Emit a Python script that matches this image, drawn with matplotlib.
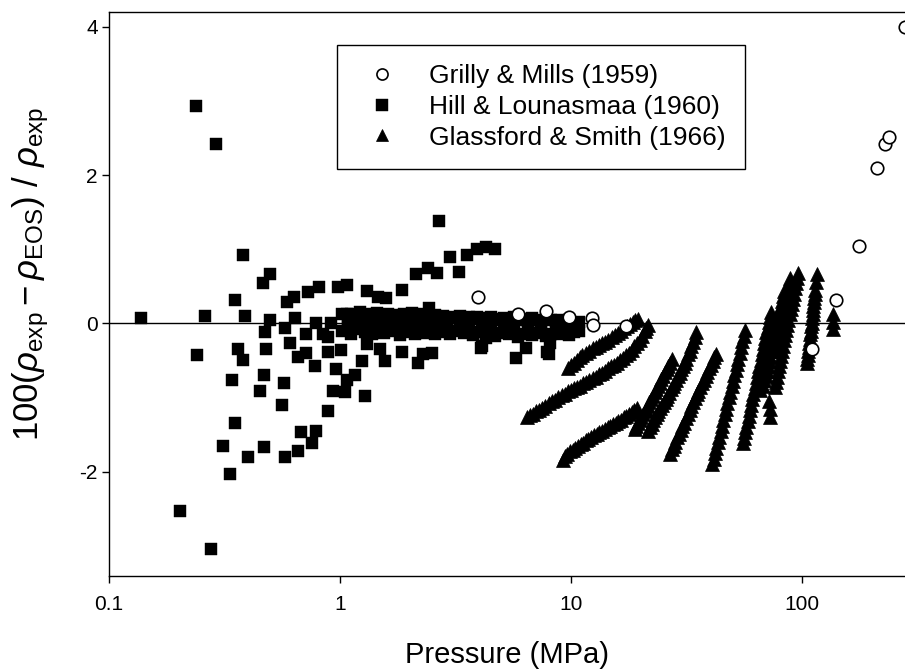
import matplotlib
matplotlib.use("Agg")
import matplotlib.pyplot as plt
import numpy as np

plt.rcParams['font.family'] = ['Liberation Sans', 'DejaVu Sans']
plt.rcParams['mathtext.fontset'] = 'custom'
plt.rcParams['mathtext.rm'] = 'Liberation Sans'
plt.rcParams['mathtext.it'] = 'Liberation Sans:italic'
plt.rcParams['axes.unicode_minus'] = False

# ---------------- data ----------------
# Grilly & Mills (1959)
gm_p = [3.96, 5.9, 7.8, 9.8, 12.3, 12.4, 17.3, 110, 140, 177, 211, 229, 238, 279]
gm_y = [0.36, 0.13, 0.16, 0.09, 0.07, -0.03, -0.04, -0.35, 0.32, 1.04, 2.10, 2.42, 2.51, 4.0]

# Hill & Lounasmaa (1960) - scattered points
hl_p = [0.138, 0.203, 0.238, 0.24, 0.26, 0.277, 0.29, 0.31, 0.335, 0.34, 0.35, 0.35, 0.36,
        0.38, 0.38, 0.387, 0.40, 0.45, 0.464, 0.47, 0.47, 0.48, 0.475, 0.497, 0.50, 0.56,
        0.57, 0.58, 0.58, 0.59, 0.61, 0.63, 0.64, 0.66, 0.66, 0.68, 0.71, 0.71, 0.73, 0.76,
        0.78, 0.79, 0.79, 0.81, 0.84, 0.89, 0.89, 0.89, 0.91, 0.93, 0.96, 0.98, 1.01, 1.05,
        1.07, 1.07, 1.07, 1.16, 1.25, 1.28, 1.31, 1.31, 1.46, 1.49, 1.57, 1.58, 1.85, 1.86,
        2.13, 2.17, 2.29, 2.4, 2.43, 2.5, 2.63, 2.68, 3.0, 3.27, 3.55, 3.92, 4.07, 4.3, 4.68,
        4.1, 4.3, 5.8, 6.4, 7.9, 8.1, 8.0]
hl_y = [0.07, -2.53, 2.93, -0.43, 0.10, -3.05, 2.42, -1.66, -2.03, -0.77, 0.32, -1.34, -0.35,
        0.92, -0.50, 0.10, -1.81, -0.92, 0.54, -1.67, -0.70, -0.35, -0.12, 0.66, 0.04, -1.10,
        -0.81, -1.81, -0.06, 0.29, -0.27, 0.36, 0.07, -1.73, -0.46, -1.47, -0.40, -0.14, 0.42, -1.61,
        -0.57, -1.45, 0.0, 0.49, -0.14, -1.19, -0.19, -0.39, 0.0, -0.91, -0.62, 0.49, -0.36, -0.93,
        0.51, -0.76, 0.13, -0.70, -0.51, -0.98, 0.43, -0.28, 0.35, -0.35, -0.51, 0.34, 0.45, -0.39,
        0.66, -0.53, -0.42, 0.74, 0.21, -0.40, 0.68, 1.38, 0.90, 0.69, 0.92, 1.00, -0.34, 1.03, 1.00,
        -0.30, -0.20, -0.47, -0.34, -0.39, -0.27, -0.41]
# Hill & Lounasmaa (1960) - dense band near zero
hl_band_p = [1.02, 1.08, 1.12, 1.18, 1.22, 1.28, 1.33, 1.38, 1.44, 1.5, 1.55, 1.62, 1.68, 1.75,
             1.82, 1.9, 1.97, 2.05, 2.12, 2.2, 2.3, 2.38, 2.48, 2.58, 2.68, 2.8, 2.9, 3.0, 3.15,
             3.3, 3.45, 3.6, 3.75, 3.9, 4.1, 4.3, 4.5, 4.7, 4.9, 5.15, 5.4, 5.65, 5.9, 6.2, 6.5,
             6.8, 7.1, 7.4, 7.8, 8.2, 8.6, 9.0, 9.4, 9.8, 10.3, 10.8]
hl_band_y1 = [0.13, 0.05, 0.12, 0.02, 0.15, 0.08, 0.12, 0.03, 0.14, 0.10, 0.06, 0.13, 0.09, 0.11,
              0.04, 0.12, 0.08, 0.14, 0.10, 0.07, 0.12, 0.09, 0.05, 0.11, 0.08, 0.10, 0.06, 0.09,
              0.07, 0.10, 0.05, 0.08, 0.06, 0.09, 0.07, 0.05, 0.08, 0.06, 0.04, 0.07, 0.05, 0.08,
              0.04, 0.06, 0.03, 0.07, 0.05, 0.02, 0.06, 0.04, 0.03, 0.05, 0.02, 0.04, 0.01, 0.02]
hl_band_y2 = [-0.10, -0.05, -0.14, -0.08, -0.03, -0.12, -0.06, -0.15, -0.09, -0.04, -0.13, -0.07,
              -0.11, -0.02, -0.16, -0.08, -0.12, -0.05, -0.14, -0.09, -0.06, -0.13, -0.10, -0.15,
              -0.07, -0.12, -0.09, -0.14, -0.11, -0.06, -0.13, -0.10, -0.16, -0.12, -0.08, -0.14,
              -0.11, -0.17, -0.13, -0.09, -0.15, -0.12, -0.18, -0.14, -0.10, -0.16, -0.13, -0.11,
              -0.17, -0.14, -0.12, -0.15, -0.13, -0.16, -0.12, -0.10]

# Glassford & Smith (1966) - isotherms
gs_p_1 = [9.7, 10.0, 10.3, 10.6, 10.9, 11.2, 11.6, 12.0, 12.4, 12.8, 13.2, 13.6, 14.0, 14.5,
          15.0, 15.5, 16.0, 16.5, 17.0, 17.5, 18.0, 18.5, 19.0, 19.5]
gs_y_1 = [-0.60, -0.56, -0.53, -0.49, -0.46, -0.43, -0.40, -0.37, -0.34, -0.32, -0.29, -0.27,
          -0.25, -0.22, -0.19, -0.16, -0.13, -0.10, -0.07, -0.04, -0.01, 0.02, 0.04, 0.06]
gs_p_2 = [6.45, 6.65, 6.85, 7.05, 7.25, 7.5, 7.75, 8.0, 8.25, 8.5, 8.8, 9.1, 9.4, 9.7, 10.0,
          10.3, 10.6, 10.95, 11.3, 11.65, 12.0, 12.4, 12.8, 13.2, 13.6, 14.0, 14.45, 14.9,
          15.35, 15.8, 16.3, 16.8, 17.3, 17.8, 18.3, 18.8, 19.3, 19.8, 20.3, 20.8, 21.2, 21.5]
gs_y_2 = [-1.27, -1.24, -1.22, -1.19, -1.17, -1.14, -1.11, -1.08, -1.05, -1.03, -1.00, -0.97,
          -0.95, -0.92, -0.90, -0.88, -0.86, -0.84, -0.81, -0.79, -0.77, -0.74, -0.72, -0.69,
          -0.67, -0.64, -0.61, -0.58, -0.56, -0.53, -0.50, -0.47, -0.43, -0.40, -0.36, -0.31,
          -0.27, -0.22, -0.17, -0.11, -0.06, -0.02]
gs_p_3 = [9.2, 9.4, 9.65, 9.9, 10.15, 10.4, 10.7, 11.0, 11.3, 11.6, 11.9, 12.2, 12.55, 12.9,
          13.25, 13.6, 14.0, 14.4, 14.8, 15.2, 15.6, 16.0, 16.45, 16.9, 17.35, 17.8, 18.3,
          18.8, 19.3]
gs_y_3 = [-1.84, -1.79, -1.76, -1.73, -1.71, -1.68, -1.66, -1.63, -1.61, -1.58, -1.56, -1.54,
          -1.51, -1.49, -1.47, -1.45, -1.43, -1.40, -1.38, -1.36, -1.34, -1.32, -1.30, -1.27,
          -1.25, -1.23, -1.20, -1.17, -1.14]
gs_p_4 = [18.9, 19.2, 19.5, 19.8, 20.1, 20.45, 20.8, 21.15, 21.5, 21.85, 22.2, 22.6, 23.0,
          23.4, 23.8, 24.2, 24.6, 25.05, 25.5, 25.95, 26.4, 26.9, 27.4]
gs_y_4 = [-1.43, -1.39, -1.35, -1.31, -1.27, -1.23, -1.19, -1.15, -1.11, -1.06, -1.02, -0.98,
          -0.93, -0.89, -0.84, -0.80, -0.75, -0.71, -0.66, -0.62, -0.57, -0.53, -0.48]
gs_p_5 = [21.5, 21.9, 22.3, 22.7, 23.1, 23.5, 23.9, 24.35, 24.8, 25.25, 25.7, 26.15, 26.6,
          27.05, 27.5, 28.0, 28.5, 29.0, 29.5, 30.0, 30.5, 31.0, 31.5, 32.05, 32.6, 33.15,
          33.7, 34.3, 34.9]
gs_y_5 = [-1.45, -1.40, -1.36, -1.31, -1.27, -1.22, -1.18, -1.14, -1.10, -1.06, -1.02, -0.98,
          -0.94, -0.89, -0.85, -0.80, -0.76, -0.71, -0.67, -0.62, -0.58, -0.53, -0.48, -0.42,
          -0.37, -0.31, -0.25, -0.19, -0.12]
gs_p_6 = [26.8, 27.3, 27.8, 28.3, 28.8, 29.3, 29.8, 30.35, 30.9, 31.45, 32.0, 32.6, 33.2,
          33.8, 34.4, 35.0, 35.6, 36.25, 36.9, 37.55, 38.2, 38.9, 39.6, 40.3, 41.0, 41.75, 42.5]
gs_y_6 = [-1.76, -1.70, -1.65, -1.60, -1.54, -1.49, -1.44, -1.39, -1.34, -1.28, -1.23, -1.17,
          -1.12, -1.06, -1.01, -0.96, -0.91, -0.86, -0.81, -0.76, -0.71, -0.66, -0.61, -0.56,
          -0.51, -0.46, -0.41]
gs_p_7 = [40.8, 41.4, 42.0, 42.6, 43.2, 43.8, 44.4, 45.0, 45.6, 46.25, 46.9, 47.55, 48.2,
          48.85, 49.5, 50.2, 50.9, 51.6, 52.3, 53.05, 53.8, 54.5, 55.2, 55.95, 56.7]
gs_y_7 = [-1.90, -1.83, -1.75, -1.68, -1.60, -1.53, -1.45, -1.38, -1.30, -1.23, -1.15, -1.08,
          -1.00, -0.93, -0.85, -0.78, -0.70, -0.63, -0.55, -0.48, -0.40, -0.32, -0.24, -0.17, -0.09]
gs_p_8 = [55.5, 56.15, 56.8, 57.45, 58.1, 58.8, 59.5, 60.2, 60.9, 61.6, 62.3, 63.05, 63.8,
          64.55, 65.3, 66.1, 66.9, 67.7, 68.5, 69.3, 70.1, 70.9, 71.7, 72.55, 73.4]
gs_y_8 = [-1.62, -1.55, -1.47, -1.40, -1.32, -1.25, -1.17, -1.10, -1.02, -0.95, -0.87, -0.80,
          -0.72, -0.65, -0.57, -0.50, -0.42, -0.35, -0.27, -0.20, -0.12, -0.05, 0.02, 0.09, 0.15]
gs_p_9 = [65.7, 66.5, 67.3, 68.15, 69.0, 69.85, 70.7, 71.55, 72.4, 73.3, 74.2, 75.1, 76.0,
          76.95, 77.9, 78.85, 79.8, 80.8, 81.8, 82.8, 83.8]
gs_y_9 = [-0.90, -0.83, -0.77, -0.70, -0.64, -0.57, -0.51, -0.44, -0.38, -0.31, -0.25, -0.18,
          -0.12, -0.05, 0.02, 0.09, 0.16, 0.23, 0.30, 0.37, 0.44]
gs_p_10 = [67.8, 68.65, 69.5, 70.35, 71.2, 72.1, 73.0, 73.9, 74.8, 75.7, 76.6, 77.55, 78.5,
           79.45, 80.4, 81.4, 82.4, 83.4, 84.4, 85.45, 86.5, 87.55, 88.6]
gs_y_10 = [-0.84, -0.77, -0.71, -0.64, -0.58, -0.51, -0.45, -0.38, -0.32, -0.25, -0.19, -0.12,
           -0.06, 0.01, 0.07, 0.14, 0.20, 0.27, 0.33, 0.40, 0.47, 0.54, 0.61]
gs_p_11 = [76.0, 76.8, 77.6, 78.45, 79.3, 80.15, 81.0, 81.9, 82.8, 83.7, 84.6, 85.5, 86.4,
           87.35, 88.3, 89.25, 90.2, 91.2, 92.2, 93.2, 94.2, 95.25, 96.3]
gs_y_11 = [-0.86, -0.79, -0.72, -0.65, -0.58, -0.51, -0.44, -0.37, -0.30, -0.23, -0.16, -0.09,
           -0.02, 0.05, 0.12, 0.19, 0.26, 0.33, 0.40, 0.47, 0.54, 0.61, 0.68]
gs_p_12 = [72.0, 72.5, 73.0]
gs_y_12 = [-1.05, -1.15, -1.26]
gs_p_13 = [105, 105.5, 106, 106.5, 107, 107.5, 108, 108.5, 109, 109.5, 110, 110.5, 111, 111.5,
           112, 112.5, 113, 113.5, 114, 115, 116]
gs_y_13 = [-0.54, -0.48, -0.43, -0.37, -0.32, -0.26, -0.21, -0.15, -0.10, -0.04, 0.01, 0.07,
           0.12, 0.18, 0.23, 0.29, 0.34, 0.40, 0.45, 0.56, 0.67]
gs_p_14 = [136, 136, 136]
gs_y_14 = [0.12, 0.02, -0.08]

x_ticks = [0.1, 1, 10, 100]
x_ticklabels = ['0.1', '1', '10', '100']
y_ticks = [-2, 0, 2, 4]
y_ticklabels = ['-2', '0', '2', '4']
labels = ['Grilly & Mills (1959)', 'Hill & Lounasmaa (1960)', 'Glassford & Smith (1966)']

# ---------------- figure ----------------
fig = plt.figure(figsize=(9.05, 6.70), dpi=100)
ax = fig.add_axes([109 / 905, 94 / 670, 796 / 905, 564 / 670])
ax.set_xscale('log')
ax.set_xlim(0.1, 279)
ax.set_ylim(-3.41, 4.2)

ax.axhline(0, color='black', lw=1.0, zorder=1)

gs_p = np.concatenate([gs_p_1, gs_p_2, gs_p_3, gs_p_4, gs_p_5, gs_p_6, gs_p_7,
                       gs_p_8, gs_p_9, gs_p_10, gs_p_11, gs_p_12, gs_p_13, gs_p_14])
gs_y = np.concatenate([gs_y_1, gs_y_2, gs_y_3, gs_y_4, gs_y_5, gs_y_6, gs_y_7,
                       gs_y_8, gs_y_9, gs_y_10, gs_y_11, gs_y_12, gs_y_13, gs_y_14])
hl_all_p = np.concatenate([hl_p, hl_band_p, hl_band_p])
hl_all_y = np.concatenate([hl_y, hl_band_y1, hl_band_y2])

l3, = ax.plot(gs_p, gs_y, ls='none', marker='^', ms=10, mfc='black', mec='black',
              mew=0.5, zorder=3)
l2, = ax.plot(hl_all_p, hl_all_y, ls='none', marker='s', ms=8.4, mfc='black', mec='black',
              mew=0.3, zorder=4)
l1, = ax.plot(gm_p, gm_y, ls='none', marker='o', ms=9.0, mfc='white', mec='black',
              mew=1.2, zorder=5)

ax.set_xticks(x_ticks)
ax.set_xticklabels(x_ticklabels)
ax.xaxis.set_minor_locator(matplotlib.ticker.NullLocator())
ax.set_yticks(y_ticks)
ax.set_yticklabels(y_ticklabels)
ax.tick_params(direction='out', length=5, width=1.0, labelsize=15, color='black')
ax.tick_params(axis='x', pad=9)
ax.tick_params(axis='y', pad=3)
for side in ['left', 'bottom', 'top']:
    ax.spines[side].set_linewidth(1.0)
ax.spines['right'].set_visible(False)

ax.set_xlabel('Pressure (MPa)', fontsize=21)
ax.xaxis.set_label_coords(0.5, -0.116)
ax.set_ylabel(r'$\mathrm{100(}\rho_{\mathrm{exp}} - \rho_{\mathrm{EOS}}\mathrm{)\ /\ }\rho_{\mathrm{exp}}$',
              fontsize=25)
ax.yaxis.set_label_coords(-0.073, 0.535)

leg = ax.legend([l1, l2, l3], labels, loc='upper left',
                bbox_to_anchor=((337 - 109) / 796, (576 - 45) / 564),
                borderaxespad=0, fontsize=19, frameon=True, fancybox=False,
                edgecolor='black', borderpad=0.72, handlelength=2.0,
                handletextpad=0.78, labelspacing=0.26, framealpha=1)
leg.get_frame().set_linewidth(1.0)
for h in leg.legend_handles:
    h.set_markersize(8)

fig.savefig('out.png', dpi=100)
